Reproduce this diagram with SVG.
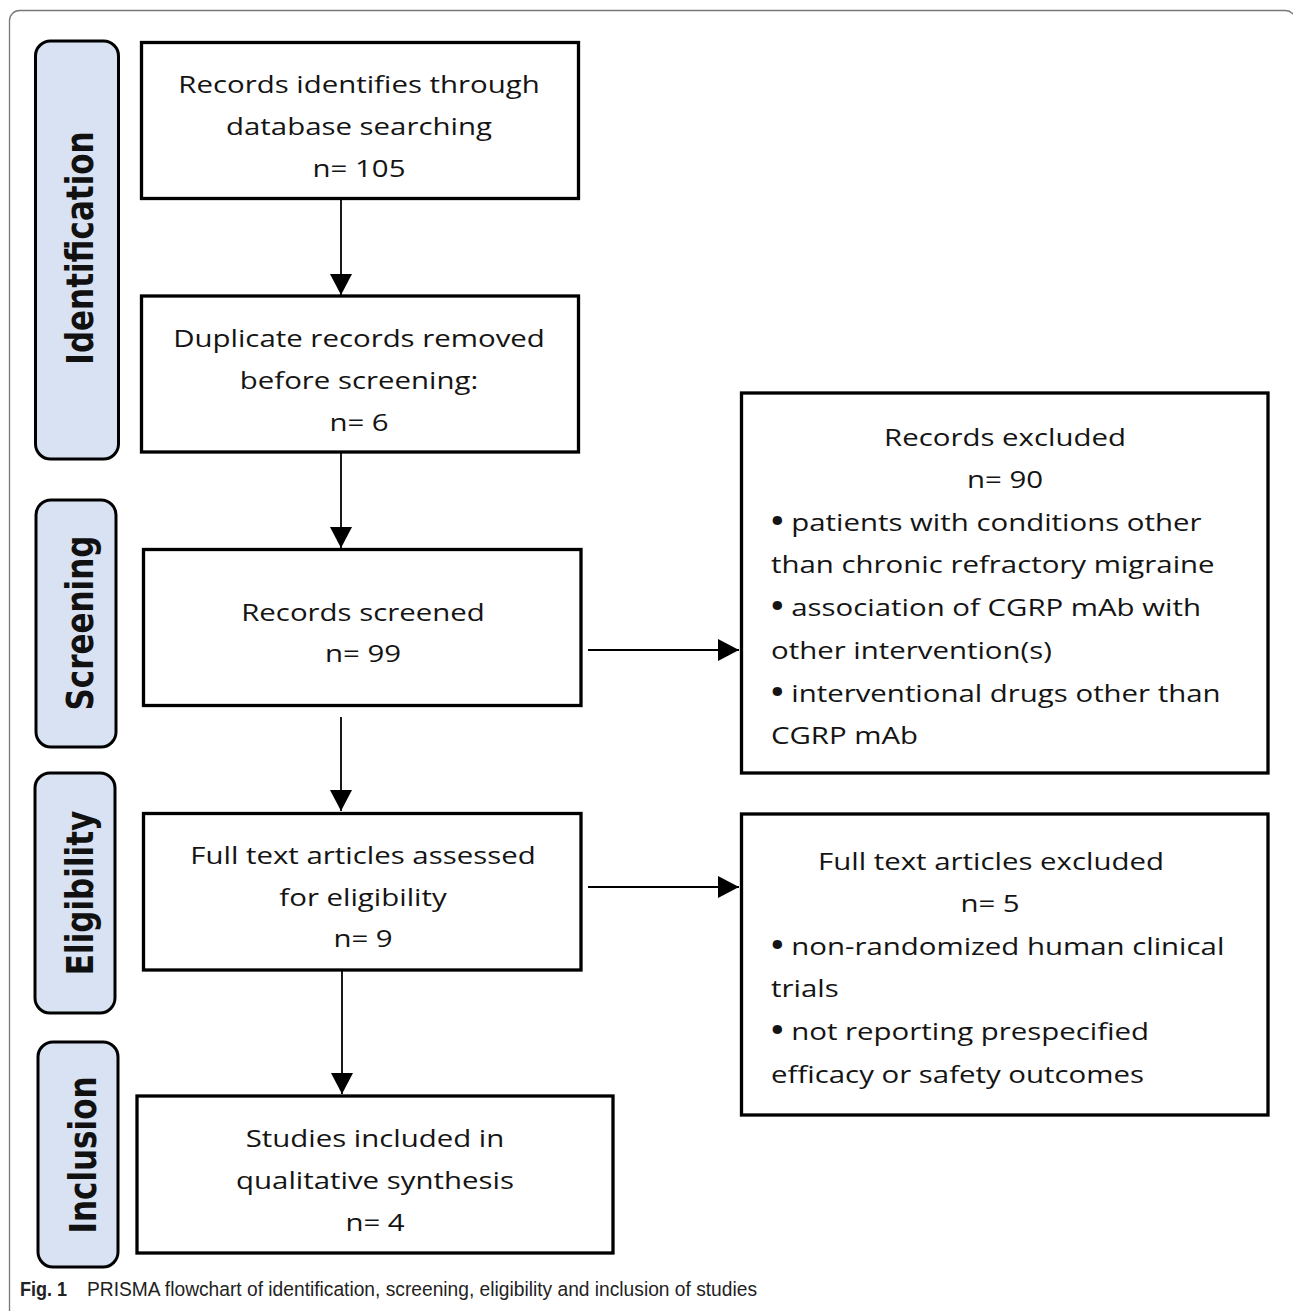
<svg xmlns="http://www.w3.org/2000/svg" width="1293" height="1311" viewBox="0 0 1293 1311">
<style>
.frame{fill:none;stroke:#777;stroke-width:1.3}
.box{fill:#fff;stroke:#000;stroke-width:3.3}
.lab{fill:#d9e2f3;stroke:#000;stroke-width:3}
.lt{font-family:"DejaVu Sans",Verdana,sans-serif;font-weight:bold;font-size:31px;fill:#111;text-anchor:middle}
.t{font-family:"Open Sans","Noto Sans",sans-serif;font-size:24.5px;fill:#141414}
.c{text-anchor:middle}
.s{text-anchor:start}
.b{font-weight:bold;font-size:28px}
.conn{stroke:#000;stroke-width:1.8;fill:none}
.cap{font-family:"Liberation Sans",Arial,sans-serif;font-size:20.5px;fill:#222}
</style>
<defs>
<marker id="ah" viewBox="0 0 21 22" refX="21" refY="11" markerWidth="21" markerHeight="22" markerUnits="userSpaceOnUse" orient="auto">
<path d="M0,0 L21,11 L0,22 Z" fill="#000"/>
</marker>
</defs>
<rect width="1293" height="1311" fill="#fff"/>
<rect class="frame" x="9.5" y="10.5" width="1286" height="1400" rx="10"/>

<g id="label-identification">
<rect class="lab" x="35.5" y="41" width="83" height="418" rx="15"/>
<text class="lt" transform="translate(93,248) rotate(-90) scale(1,1.2)">Identification</text>
</g>
<g id="label-screening">
<rect class="lab" x="36" y="500" width="80" height="247" rx="15"/>
<text class="lt" transform="translate(93,623) rotate(-90) scale(1,1.2)">Screening</text>
</g>
<g id="label-eligibility">
<rect class="lab" x="35" y="773" width="80" height="240" rx="15"/>
<text class="lt" transform="translate(93,893) rotate(-90) scale(1,1.2)">Eligibility</text>
</g>
<g id="label-inclusion">
<rect class="lab" x="38" y="1042" width="80" height="225" rx="15"/>
<text class="lt" transform="translate(96,1155) rotate(-90) scale(1,1.2)">Inclusion</text>
</g>

<g id="connectors">
<line class="conn" x1="341" y1="198" x2="341" y2="295" marker-end="url(#ah)"/>
<line class="conn" x1="341" y1="452" x2="341" y2="548" marker-end="url(#ah)"/>
<line class="conn" x1="341" y1="717" x2="341" y2="811" marker-end="url(#ah)"/>
<line class="conn" x1="342" y1="970" x2="342" y2="1094" marker-end="url(#ah)"/>
<line class="conn" x1="588" y1="650" x2="739" y2="650" marker-end="url(#ah)"/>
<line class="conn" x1="588" y1="887" x2="739" y2="887" marker-end="url(#ah)"/>
</g>

<g id="node-identified">
<rect class="box" x="141.5" y="42.5" width="437" height="156"/>
<text class="t c" transform="translate(359,93) scale(1.2,1)">Records identifies through</text>
<text class="t c" transform="translate(359,135) scale(1.2,1)">database searching</text>
<text class="t c" transform="translate(359,177) scale(1.2,1)">n= 105</text>
</g>
<g id="node-duplicates">
<rect class="box" x="141.5" y="296" width="437" height="156"/>
<text class="t c" transform="translate(359,347) scale(1.2,1)">Duplicate records removed</text>
<text class="t c" transform="translate(359,389) scale(1.2,1)">before screening:</text>
<text class="t c" transform="translate(359,431) scale(1.2,1)">n= 6</text>
</g>
<g id="node-screened">
<rect class="box" x="143.5" y="549.5" width="437.5" height="156"/>
<text class="t c" transform="translate(363,621) scale(1.2,1)">Records screened</text>
<text class="t c" transform="translate(363,662) scale(1.2,1)">n= 99</text>
</g>
<g id="node-fulltext">
<rect class="box" x="143.5" y="813.5" width="437.5" height="156.5"/>
<text class="t c" transform="translate(363,864) scale(1.2,1)">Full text articles assessed</text>
<text class="t c" transform="translate(363,906) scale(1.2,1)">for eligibility</text>
<text class="t c" transform="translate(363,947) scale(1.2,1)">n= 9</text>
</g>
<g id="node-included">
<rect class="box" x="137" y="1096" width="476" height="157"/>
<text class="t c" transform="translate(375,1147) scale(1.2,1)">Studies included in</text>
<text class="t c" transform="translate(375,1189) scale(1.2,1)">qualitative synthesis</text>
<text class="t c" transform="translate(375,1231) scale(1.2,1)">n= 4</text>
</g>
<g id="node-records-excluded">
<rect class="box" x="741.5" y="393" width="526.5" height="380"/>
<text class="t c" transform="translate(1005,446) scale(1.2,1)">Records excluded</text>
<text class="t c" transform="translate(1005,488) scale(1.2,1)">n= 90</text>
<text class="t s" transform="translate(771,531) scale(1.2,1)"><tspan class="b">•</tspan> patients with conditions other</text>
<text class="t s" transform="translate(771,573) scale(1.2,1)">than chronic refractory migraine</text>
<text class="t s" transform="translate(771,616) scale(1.2,1)"><tspan class="b">•</tspan> association of CGRP mAb with</text>
<text class="t s" transform="translate(771,659) scale(1.2,1)">other intervention(s)</text>
<text class="t s" transform="translate(771,702) scale(1.2,1)"><tspan class="b">•</tspan> interventional drugs other than</text>
<text class="t s" transform="translate(771,744) scale(1.2,1)">CGRP mAb</text>
</g>
<g id="node-fulltext-excluded">
<rect class="box" x="741.5" y="814" width="526.5" height="301"/>
<text class="t c" transform="translate(991,870) scale(1.2,1)">Full text articles excluded</text>
<text class="t c" transform="translate(990,912) scale(1.2,1)">n= 5</text>
<text class="t s" transform="translate(771,955) scale(1.2,1)"><tspan class="b">•</tspan> non-randomized human clinical</text>
<text class="t s" transform="translate(771,997) scale(1.2,1)">trials</text>
<text class="t s" transform="translate(771,1040) scale(1.2,1)"><tspan class="b">•</tspan> not reporting prespecified</text>
<text class="t s" transform="translate(771,1083) scale(1.2,1)">efficacy or safety outcomes</text>
</g>

<g id="caption">
<text class="cap" x="20" y="1296" font-weight="bold" textLength="47" lengthAdjust="spacingAndGlyphs">Fig. 1</text>
<text class="cap" x="87" y="1296" textLength="670" lengthAdjust="spacingAndGlyphs">PRISMA flowchart of identification, screening, eligibility and inclusion of studies</text>
</g>
</svg>
